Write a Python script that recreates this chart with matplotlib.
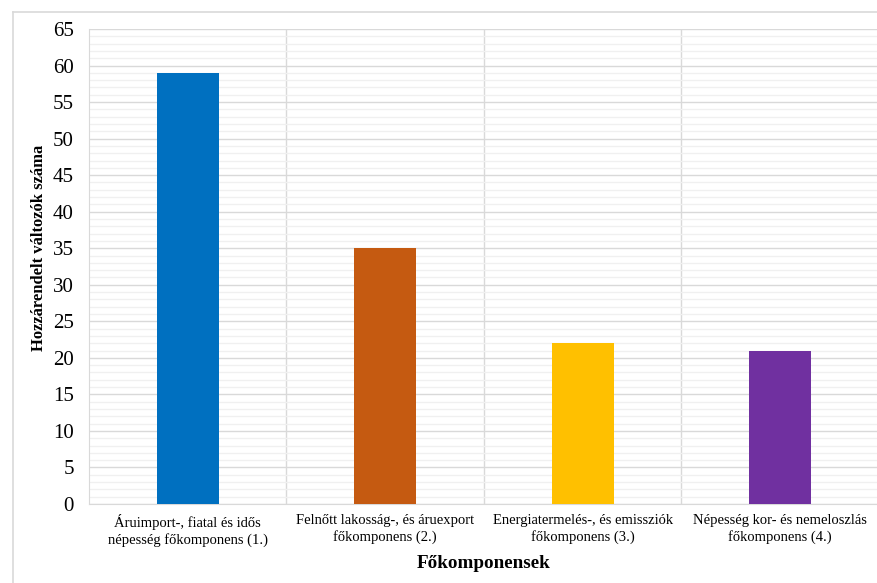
import matplotlib.pyplot as plt
import matplotlib
from matplotlib.lines import Line2D

categories = [
    "Áruimport-, fiatal és idős\nnépesség főkomponens (1.)",
    "Felnőtt lakosság-, és áruexport\nfőkomponens (2.)",
    "Energiatermelés-, és emissziók\nfőkomponens (3.)",
    "Népesség kor- és nemeloszlás\nfőkomponens (4.)",
]
values = [59, 35, 22, 21]
colors = ["#0070C0", "#C55A11", "#FFC000", "#7030A0"]
y_ticks = list(range(0, 66, 5))

plt.rcParams["font.family"] = ["Liberation Serif", "DejaVu Serif"]

fig = plt.figure(figsize=(8.78, 5.83), dpi=100)
ax = fig.add_axes([89 / 878, 1 - 504 / 583, 790 / 878, 475 / 583])

x = list(range(len(categories)))
ax.bar(x, values, width=0.315, color=colors, zorder=3)

ax.set_xlim(-0.5, len(categories) - 0.5)
ax.set_ylim(0, 65)
ax.set_yticks(y_ticks)
ax.set_yticks(range(0, 66), minor=True)
ax.tick_params(axis="y", which="both", length=0, labelsize=15, pad=11)
ax.set_xticks(x)
ax.set_xticklabels(categories, fontsize=10.5, linespacing=1.35)
ax.tick_params(axis="x", length=0, pad=7)

ax.grid(axis="y", which="major", color="#d9d9d9", lw=1.0, zorder=0)
ax.grid(axis="y", which="minor", color="#f0f0f0", lw=1.0, zorder=0)
for b in [0.5, 1.5, 2.5]:
    ax.axvline(b, color="#d9d9d9", lw=1.0, zorder=1)

for side in ["top", "right"]:
    ax.spines[side].set_visible(False)
for side in ["left", "bottom"]:
    ax.spines[side].set_color("#d9d9d9")

ax.set_ylabel("Hozzárendelt változók száma", fontsize=12, fontweight="bold")
ax.yaxis.set_label_coords(-0.053, 0.539)
ax.set_xlabel("Főkomponensek", fontsize=13.8, fontweight="bold")
ax.xaxis.set_label_coords(0.5, -0.108)

# outer chart frame
fig.add_artist(Line2D([13 / 878, 13 / 878], [0, 1 - 12 / 583], transform=fig.transFigure, color="#d9d9d9", lw=1.2))
fig.add_artist(Line2D([13 / 878, 1], [1 - 12 / 583, 1 - 12 / 583], transform=fig.transFigure, color="#d9d9d9", lw=1.2))

fig.savefig("out.png", dpi=100)
